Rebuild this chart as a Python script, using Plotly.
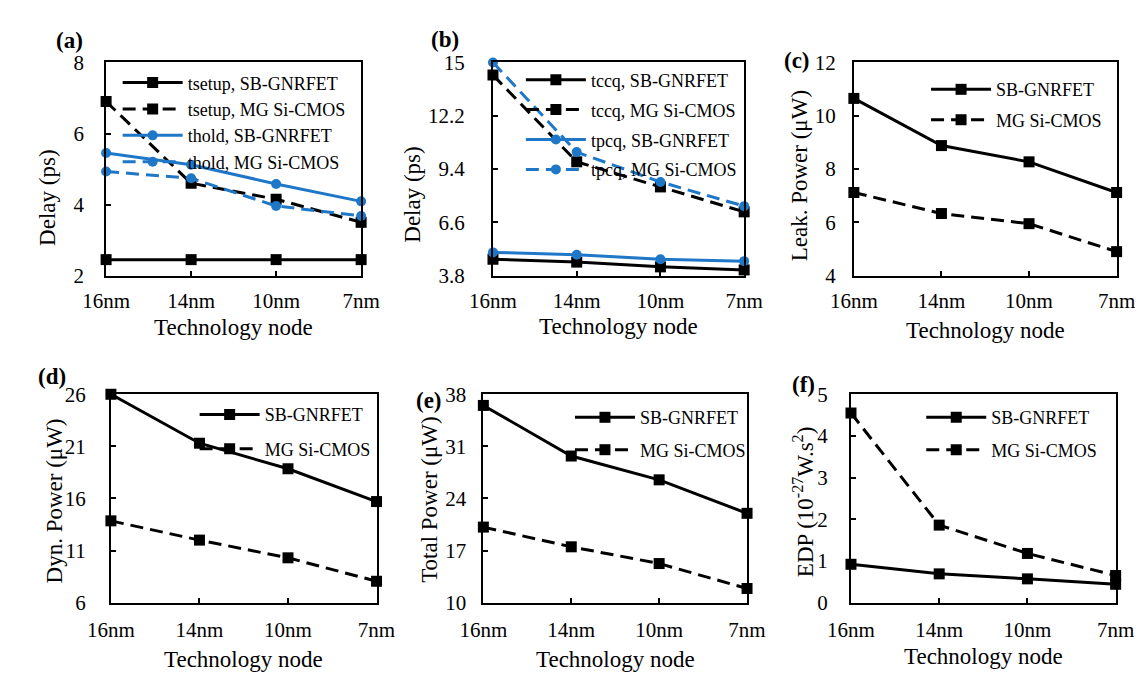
import plotly.graph_objects as go

W, H = 1143, 678
FONT = "Liberation Serif, Times New Roman, serif"
BLUE = "#1f77c8"

nodes = ["16nm", "14nm", "10nm", "7nm"]

# (a) setup / hold delay (ps)
tsetup_sb = [2.45, 2.45, 2.45, 2.45]
tsetup_mg = [6.9, 4.6, 4.15, 3.5]
thold_sb = [5.45, 5.12, 4.58, 4.09]
thold_mg = [4.93, 4.74, 3.96, 3.68]
# (b) clk-to-q delay (ps)
tccq_sb = [4.66, 4.51, 4.26, 4.1]
tccq_mg = [14.34, 9.78, 8.46, 7.15]
tpcq_sb = [5.02, 4.9, 4.66, 4.56]
tpcq_mg = [15.0, 10.29, 8.72, 7.45]
# (c) leakage power (uW)
leak_sb = [10.65, 8.88, 8.27, 7.12]
leak_mg = [7.12, 6.33, 5.95, 4.9]
# (d) dynamic power (uW)
dyn_sb = [26.0, 21.3, 18.85, 15.7]
dyn_mg = [13.85, 12.0, 10.3, 8.05]
# (e) total power (uW)
total_sb = [36.5, 29.7, 26.5, 22.0]
total_mg = [20.15, 17.5, 15.25, 11.9]
# (f) EDP (1e-27 W.s^2)
edp_sb = [0.92, 0.69, 0.57, 0.44]
edp_mg = [4.55, 1.86, 1.18, 0.65]

# panel boxes in pixels: left, right, top, bottom
boxes = {
    "a": (77, 342, 44, 265),
    "b": (479, 740, 44, 265),
    "c": (854, 1127, 44, 265),
    "d": (82, 358, 388, 604),
    "e": (469, 743, 388, 604),
    "f": (851, 1126, 388, 604),
}
yranges = {
    "a": ([2, 8], 2, 2),
    "b": ([3.8, 15], 3.8, 2.8),
    "c": ([4, 12], 4, 2),
    "d": ([6, 26], 6, 5),
    "e": ([10, 38], 10, 7),
    "f": ([0, 5], 0, 1),
}
ystandoff = {"a": 16, "b": 22, "c": 12, "d": 19, "e": 11, "f": 17}
ytitles = {
    "a": ("Delay (ps)", 16, 184),
    "b": ("Delay (ps)", 395, 181),
    "c": ("Leak. Power (μW)", 797, 162),
    "d": ("Dyn. Power (μW)", 23, 499),
    "e": ("Total Power (μW)", 413, 497),
    "f": ("EDP (10<sup>-27</sup>W.s<sup>2</sup>)", 802, 499),
}
xtitle_y = {"a": 319, "b": 318, "c": 322, "d": 663, "e": 663, "f": 660}
labels = {
    "a": ("(a)", 39, 21), "b": ("(b)", 429, 20), "c": ("(c)", 795, 42),
    "d": ("(d)", 21, 370), "e": ("(e)", 412, 394), "f": ("(f)", 802, 378),
}
# legend: symbol start x, first row centre y, row spacing
legpos = {
    "a": (98, 64, 24), "b": (517, 61, 29.5), "c": (938, 71, 30),
    "d": (178, 408, 34), "e": (568, 411, 32), "f": (933, 411, 32),
}

def px(x):
    return x / W

def py(y):
    return 1 - y / H

STY = {
    "k_solid": dict(line=dict(color="black", width=3), marker=dict(symbol="square", size=11, color="black")),
    "k_dash": dict(line=dict(color="black", width=3, dash="13px,7px"), marker=dict(symbol="square", size=11, color="black")),
    "b_solid": dict(line=dict(color=BLUE, width=3), marker=dict(symbol="circle", size=10, color=BLUE)),
    "b_dash": dict(line=dict(color=BLUE, width=3, dash="13px,7px"), marker=dict(symbol="circle", size=10, color=BLUE)),
}

series = {
    "a": [("tsetup, SB-GNRFET", tsetup_sb, "k_solid"), ("tsetup, MG Si-CMOS", tsetup_mg, "k_dash"),
          ("thold, SB-GNRFET", thold_sb, "b_solid"), ("thold, MG Si-CMOS", thold_mg, "b_dash")],
    "b": [("tccq, SB-GNRFET", tccq_sb, "k_solid"), ("tccq, MG Si-CMOS", tccq_mg, "k_dash"),
          ("tpcq, SB-GNRFET", tpcq_sb, "b_solid"), ("tpcq, MG Si-CMOS", tpcq_mg, "b_dash")],
    "c": [("SB-GNRFET", leak_sb, "k_solid"), ("MG Si-CMOS", leak_mg, "k_dash")],
    "d": [("SB-GNRFET", dyn_sb, "k_solid"), ("MG Si-CMOS", dyn_mg, "k_dash")],
    "e": [("SB-GNRFET", total_sb, "k_solid"), ("MG Si-CMOS", total_mg, "k_dash")],
    "f": [("SB-GNRFET", edp_sb, "k_solid"), ("MG Si-CMOS", edp_mg, "k_dash")],
}

fig = go.Figure()
layout = dict(
    width=W, height=H, margin=dict(l=0, r=0, t=0, b=0),
    paper_bgcolor="white", plot_bgcolor="white",
    font=dict(family=FONT, color="black", size=18),
    annotations=[],
)

for i, key in enumerate(["a", "b", "c", "d", "e", "f"]):
    n = i + 1
    sfx = "" if n == 1 else str(n)
    l, r, t, b = boxes[key]
    yr, t0, dt = yranges[key]
    legname = "legend" if n == 1 else f"legend{n}"
    for j, (name, vals, st) in enumerate(series[key]):
        fig.add_trace(go.Scatter(
            x=nodes, y=vals, name=name, mode="lines+markers",
            xaxis="x" + sfx, yaxis="y" + sfx, legend=legname,
            legendgroup=f"{key}{j}", cliponaxis=False, **STY[st]))
    layout["xaxis" + sfx] = dict(
        domain=[px(l), px(r)], anchor="y" + sfx, type="category",
        range=[0, 3], showline=True, mirror=True, linecolor="black", linewidth=2,
        ticks="inside", ticklen=5, tickwidth=1.5, tickcolor="black",
        showgrid=False, zeroline=False, tickfont=dict(size=21, family=FONT),
        ticklabelstandoff=5 if key in "abc" else 7,
    )
    layout["yaxis" + sfx] = dict(
        domain=[py(b), py(t)], anchor="x" + sfx, range=yr, tick0=t0, dtick=dt,
        showline=True, mirror=True, linecolor="black", linewidth=2,
        ticks="inside", ticklen=5, tickwidth=1.5, tickcolor="black",
        showgrid=False, zeroline=False, tickfont=dict(size=21, family=FONT),
        ticklabelstandoff=ystandoff[key],
    )
    sx, sy, gap = legpos[key]
    layout[legname] = dict(
        x=px(sx - 9), y=py(sy - 18), xanchor="left", yanchor="top",
        bgcolor="rgba(0,0,0,0)", borderwidth=0, itemwidth=60,
        traceorder="grouped", tracegroupgap=max(gap - 26, 0),
        font=dict(size=18, family=FONT),
    )
    txt, tx, ty = ytitles[key]
    layout["annotations"].append(dict(
        text=txt, x=px(tx), y=py(ty), xref="paper", yref="paper",
        textangle=-90, showarrow=False, font=dict(size=23, family=FONT),
        xanchor="center", yanchor="middle"))
    layout["annotations"].append(dict(
        text="Technology node", x=px((l + r) / 2), y=py(xtitle_y[key]), xref="paper", yref="paper",
        showarrow=False, font=dict(size=23, family=FONT), xanchor="center", yanchor="middle"))
    lt, lx, ly = labels[key]
    layout["annotations"].append(dict(
        text="<b>" + lt + "</b>", x=px(lx), y=py(ly), xref="paper", yref="paper",
        showarrow=False, font=dict(size=23, family=FONT), xanchor="center", yanchor="middle"))

fig.update_layout(**layout)
fig.write_html("out.html")
